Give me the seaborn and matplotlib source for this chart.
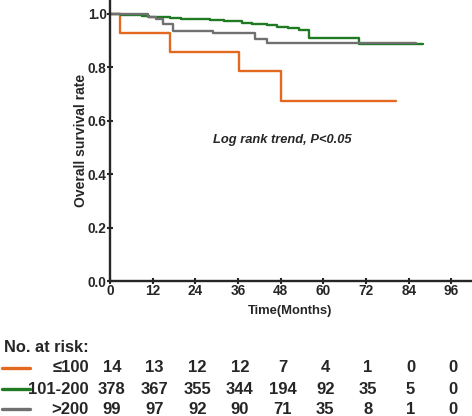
import pandas as pd
import matplotlib.pyplot as plt
import matplotlib.transforms as mtransforms
import seaborn as sns

# Kaplan-Meier step data
t_low = [0, 2.8, 16.9, 36.2, 48, 80.4]
s_low = [1.0, 0.929, 0.857, 0.786, 0.674, 0.674]

t_mid = [0, 3, 6, 9, 11, 14, 17, 20, 24, 28, 32, 37, 40, 44, 47, 50, 53, 56, 70, 88]
s_mid = [1.0, 0.997, 0.995, 0.992, 0.99, 0.987, 0.984, 0.981, 0.979, 0.976,
         0.972, 0.966, 0.962, 0.958, 0.952, 0.946, 0.938, 0.909, 0.886, 0.886]

t_high = [0, 10.7, 13, 15, 17.7, 29, 40.7, 44, 86]
s_high = [1.0, 0.99, 0.98, 0.963, 0.937, 0.93, 0.905, 0.892, 0.892]

groups = ["≤100", "101-200", ">200"]
colors = ["#E2691F", "#1F7A22", "#707070"]

tick_months = [0, 12, 24, 36, 48, 60, 72, 84, 96]
at_risk = {
    "≤100": [14, 13, 12, 12, 7, 4, 1, 0, 0],
    "101-200": [378, 367, 355, 344, 194, 92, 35, 5, 0],
    ">200": [99, 97, 92, 90, 71, 35, 8, 1, 0],
}

# Step 1: long table for seaborn
df = pd.concat([
    pd.DataFrame({"Time": t_low, "Survival": s_low, "Group": groups[0]}),
    pd.DataFrame({"Time": t_mid, "Survival": s_mid, "Group": groups[1]}),
    pd.DataFrame({"Time": t_high, "Survival": s_high, "Group": groups[2]}),
])

sns.set_style("ticks")
plt.rcParams['font.family'] = ['Liberation Sans', 'DejaVu Sans']
plt.rcParams['font.weight'] = 'bold'

fig = plt.figure(figsize=(4.72, 4.16), dpi=100)
ax = fig.add_axes([0.233, 0.3245, 0.765, 0.6755])

# Step 2: survival curves
sns.lineplot(data=df, x="Time", y="Survival", hue="Group", hue_order=groups,
             palette=colors, drawstyle="steps-post", estimator=None,
             linewidth=1.7, legend=False, ax=ax)

ax.set_xlim(0, 101.5)
ax.set_ylim(0, 1.052)
ax.set_xticks(tick_months)
ax.set_yticks([0, 0.2, 0.4, 0.6, 0.8, 1.0])
ax.set_yticklabels(["0.0", "0.2", "0.4", "0.6", "0.8", "1.0"])
ax.tick_params(direction="inout", length=4, width=1.5, labelsize=9.8, pad=0.5)
for lbl in ax.get_xticklabels() + ax.get_yticklabels():
    lbl.set_fontweight("bold")
sns.despine(ax=ax)
for side in ["left", "bottom"]:
    ax.spines[side].set_linewidth(1.7)

ax.set_xlabel("Time(Months)", fontsize=9.4, fontweight="bold", labelpad=5)
ax.set_ylabel("Overall survival rate", fontsize=10, fontweight="bold", labelpad=0)
ax.text(48.3, 0.528, "Log rank trend, P<0.05", fontsize=9.3, fontweight="bold",
        style="italic", ha="center", va="center")

# Step 3: number at risk table
fig.text(4 / 472, 1 - 348 / 416, "No. at risk:", fontsize=11.8, fontweight="bold",
         va="center")
trans = mtransforms.blended_transform_factory(ax.transData, fig.transFigure)
row_y = [368, 389, 409]
for g, c, ypx in zip(groups, colors, row_y):
    yf = 1 - ypx / 416
    fig.add_artist(plt.Line2D([2 / 472, 30 / 472], [yf, yf], color=c,
                              linewidth=2.4, transform=fig.transFigure))
    fig.text(89 / 472, yf, g, fontsize=12, fontweight="bold", ha="right", va="center")
    for m, n in zip(tick_months, at_risk[g]):
        fig.text(m + 0.5, yf, str(n), fontsize=12, fontweight="bold", ha="center",
                 va="center", transform=trans)

plt.savefig("out.png", dpi=100)
